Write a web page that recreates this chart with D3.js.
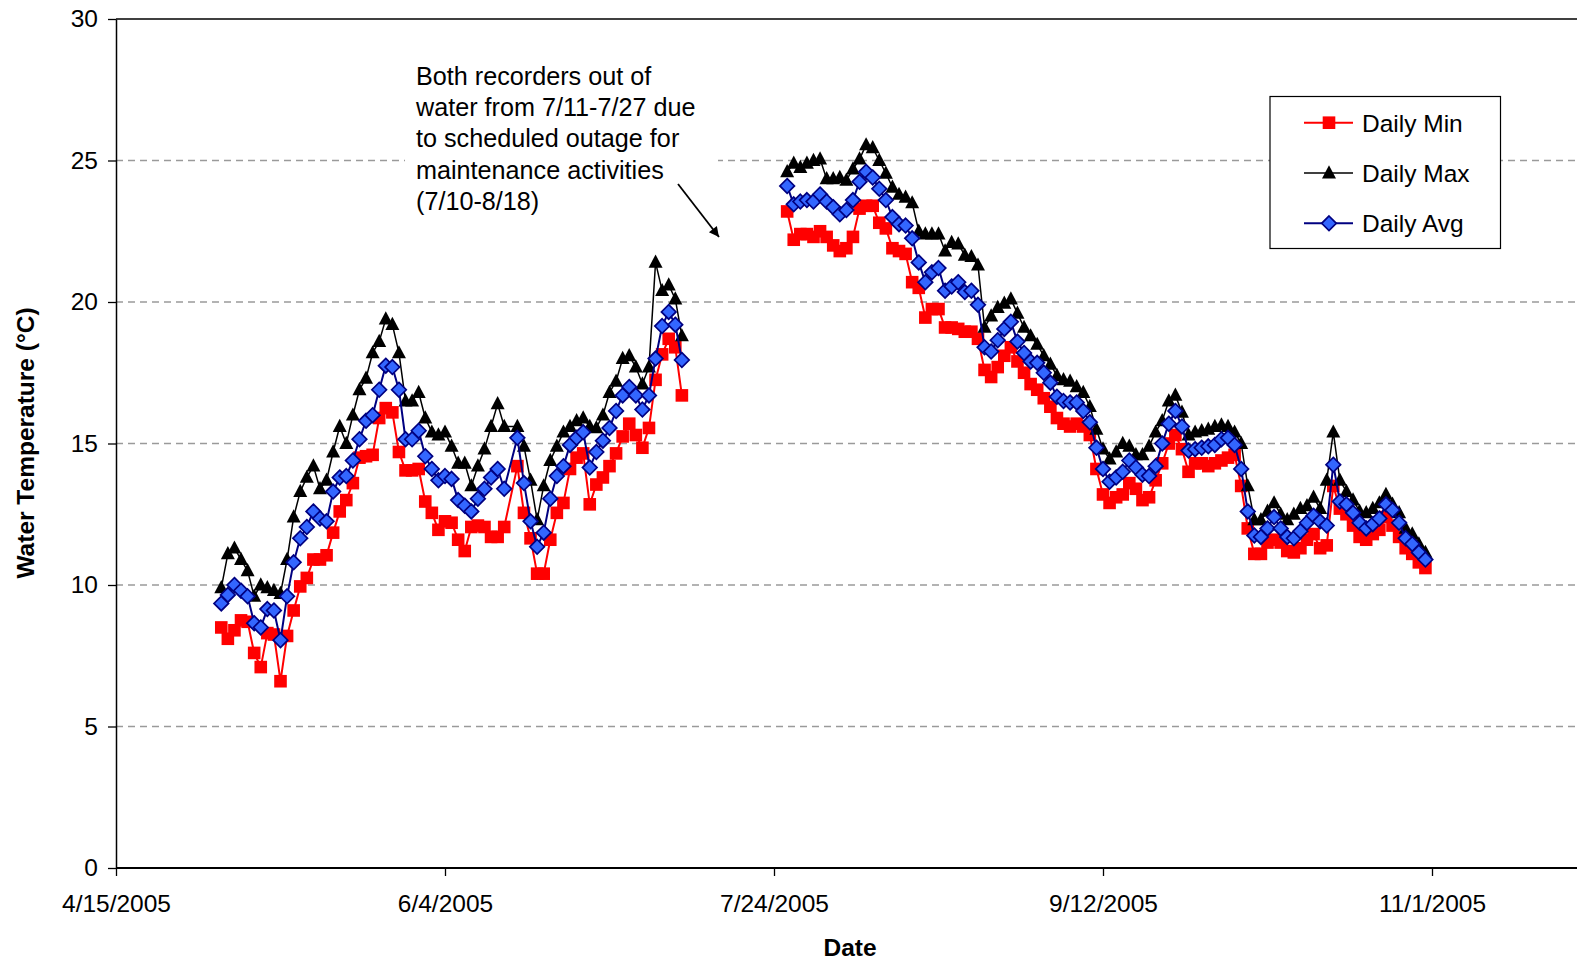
<!DOCTYPE html>
<html><head><meta charset="utf-8">
<script src="https://cdn.jsdelivr.net/npm/d3@7"></script>
<style>
body{margin:0;background:#fff}
svg{display:block}
text{font-family:"Liberation Sans",Arial,sans-serif}
</style>
</head><body>
<svg id="chart" width="1577" height="961"></svg>
<script>
// ---------- data ----------
const seriesNames = ["Daily Min", "Daily Max", "Daily Avg"];
const xTickLabels = ["4/15/2005", "6/4/2005", "7/24/2005", "9/12/2005", "11/1/2005"];
const yTicks = [0, 5, 10, 15, 20, 25, 30];
const xTitle = "Date";
const yTitle = "Water Temperature (\u00B0C)";
const noteLines = ["Both recorders out of", "water from 7/11-7/27 due", "to scheduled outage for", "maintenance activities", "(7/10-8/18)"];

// Period A: daily values starting 5/1/2005 (null = no record that day)
const startA = "5/1/2005";
const minA = [8.5,8.1,8.4,8.75,8.7,7.6,7.1,8.3,8.25,6.6,
  8.2,9.1,9.95,10.25,10.9,10.9,11.05,11.85,12.6,13.0,
  13.6,14.5,14.55,14.6,15.9,16.25,16.1,14.7,14.05,14.05,
  14.1,12.95,12.55,11.95,12.25,12.2,11.6,11.2,12.05,12.1,
  12.05,11.7,11.7,12.05,null,14.2,12.55,11.65,10.4,10.4,
  11.6,12.55,12.9,14.1,14.5,14.65,12.85,13.55,13.8,14.2,
  14.65,15.25,15.7,15.3,14.85,15.55,17.25,18.15,18.7,18.4,16.7];
const maxA = [9.9,11.1,11.3,10.9,10.5,9.6,10.0,9.9,9.8,9.7,
  10.9,12.4,13.3,13.8,14.2,13.4,13.7,14.7,15.6,15.0,
  16.0,16.9,17.3,18.2,18.6,19.4,19.2,18.2,16.5,16.5,
  16.8,15.9,15.4,15.3,15.4,14.9,14.3,14.3,13.5,14.2,
  14.8,15.6,16.4,15.6,null,15.6,14.9,13.7,12.3,13.5,
  14.4,14.9,15.4,15.6,15.8,15.9,15.6,15.55,16.0,16.8,
  17.2,18.0,18.1,17.7,17.1,17.7,21.4,20.4,20.6,20.1,18.8];
const avgA = [9.35,9.65,10.0,9.8,9.6,8.65,8.5,9.15,9.1,8.05,
  9.6,10.8,11.65,12.05,12.6,12.35,12.25,13.3,13.8,13.85,
  14.4,15.15,15.8,16.0,16.9,17.75,17.7,16.9,15.15,15.15,
  15.45,14.55,14.1,13.7,13.85,13.75,13.0,12.8,12.6,13.05,
  13.4,13.8,14.1,13.4,null,15.2,13.6,12.25,11.35,11.85,
  13.05,13.85,14.2,14.95,15.2,15.4,14.15,14.7,15.1,15.55,
  16.15,16.7,17.0,16.7,16.2,16.7,18.0,19.15,19.65,19.2,17.95];

// Period B: daily values starting 7/26/2005
const startB = "7/26/2005";
const minB = [23.2,22.2,22.4,22.4,22.3,22.5,22.3,22.0,21.8,21.9,
  22.3,23.3,23.4,23.4,22.8,22.6,21.9,21.8,21.7,20.7,
  20.5,19.45,19.75,19.75,19.1,19.1,19.05,18.95,18.95,18.7,
  17.6,17.35,17.7,18.1,18.4,17.9,17.5,17.1,16.9,16.6,
  16.3,15.9,15.7,15.6,15.7,15.6,15.3,14.1,13.2,12.9,
  13.1,13.2,13.6,13.4,13.0,13.1,13.7,14.3,15.0,15.3,
  14.8,14.0,14.3,14.3,14.2,14.3,14.4,14.5,14.6,13.5,
  12.0,11.1,11.1,11.5,11.6,11.5,11.2,11.15,11.3,11.6,
  11.8,11.3,11.4,13.5,12.7,12.5,12.1,11.7,11.6,11.8,
  11.95,12.4,12.1,11.7,11.3,11.1,10.8,10.6];
const maxB = [24.6,24.9,24.75,24.9,25.0,25.05,24.35,24.35,24.4,24.3,
  24.7,25.05,25.55,25.45,25.0,24.55,24.05,23.8,23.7,23.5,
  22.5,22.4,22.4,22.4,21.8,22.1,22.05,21.65,21.6,21.3,
  19.1,19.5,19.8,19.95,20.1,19.6,19.1,18.8,18.5,18.1,
  17.8,17.4,17.25,17.2,17.0,16.8,16.3,15.5,14.8,14.45,
  14.7,15.0,14.9,14.6,14.6,14.9,15.4,15.8,16.5,16.7,
  16.1,15.3,15.4,15.45,15.5,15.6,15.65,15.6,15.4,15.0,
  13.5,12.3,12.3,12.6,12.9,12.5,12.3,12.5,12.7,12.8,
  13.1,12.7,13.7,15.4,13.7,13.3,13.0,12.6,12.55,12.7,
  12.9,13.2,12.85,12.55,12.0,11.8,11.45,11.15];
const avgB = [24.1,23.45,23.55,23.6,23.55,23.8,23.55,23.35,23.1,23.25,
  23.6,24.25,24.6,24.4,24.0,23.6,23.0,22.75,22.7,22.25,
  21.4,20.7,21.05,21.2,20.4,20.55,20.7,20.35,20.4,19.9,
  18.4,18.25,18.65,19.05,19.3,18.6,18.2,17.9,17.85,17.5,
  17.15,16.65,16.5,16.45,16.45,16.15,15.75,14.85,14.1,13.65,
  13.8,14.0,14.4,14.15,13.9,13.85,14.2,15.0,15.7,16.15,
  15.6,14.75,14.8,14.85,14.9,14.95,15.15,15.2,14.95,14.1,
  12.6,11.75,11.7,12.0,12.4,12.0,11.7,11.65,11.9,12.2,
  12.45,12.25,12.1,14.25,12.95,12.85,12.55,12.2,12.0,12.15,
  12.35,12.85,12.65,12.2,11.65,11.45,11.15,10.9];

// ---------- helpers ----------
const parseDate = s => { const [m, d, yr] = s.split("/").map(Number); return new Date(Date.UTC(yr, m - 1, d)); };
const build = (start, vals) => { const t0 = parseDate(start); return vals.map((v, i) => ({date: d3.utcDay.offset(t0, i), v})).filter(p => p.v != null); };

const series = [
  {name: seriesNames[0], segs: [build(startA, minA), build(startB, minB)], color: "#FF0000", lw: 2, marker: "square"},
  {name: seriesNames[1], segs: [build(startA, maxA), build(startB, maxB)], color: "#000000", lw: 1.5, marker: "triangle"},
  {name: seriesNames[2], segs: [build(startA, avgA), build(startB, avgB)], color: "#000080", lw: 2, marker: "diamond"}
];

// ---------- layout ----------
const L = 116, T = 19, B = 868, R = 1584;
const svg = d3.select("#chart");
const xTickDates = xTickLabels.map(parseDate);
const x = d3.scaleUtc().domain([xTickDates[0], xTickDates[xTickDates.length - 1]]).range([116, 1432]);
const y = d3.scaleLinear().domain([0, 30]).range([B, T]);
const FS = 24.5;

// gridlines
svg.append("g").selectAll("line").data(yTicks.filter(v => v > 0 && v < 30)).join("line")
  .attr("x1", L).attr("x2", R).attr("y1", d => y(d)).attr("y2", d => y(d))
  .attr("stroke", "#9a9a9a").attr("stroke-width", 1.3).attr("stroke-dasharray", "7,5");
// top frame line
svg.append("line").attr("x1", L).attr("x2", R).attr("y1", y(30)).attr("y2", y(30))
  .attr("stroke", "#000").attr("stroke-width", 1.3);

// annotation box (white background hides gridline)
svg.append("rect").attr("x", 405).attr("y", 52).attr("width", 313).attr("height", 170).attr("fill", "#fff");
const note = svg.append("text").attr("font-size", 25.2).attr("fill", "#000");
noteLines.forEach((t, i) => note.append("tspan").attr("x", 416).attr("y", 84.5 + i * 31.4).text(t));
// arrow
svg.append("defs").append("marker").attr("id", "ah").attr("viewBox", "0 0 10 10").attr("refX", 10).attr("refY", 5)
  .attr("markerWidth", 12).attr("markerHeight", 10).attr("markerUnits", "userSpaceOnUse").attr("orient", "auto")
  .append("path").attr("d", "M0,0 L10,5 L0,10 Z").attr("fill", "#000");
svg.append("line").attr("x1", 678).attr("y1", 184).attr("x2", 719).attr("y2", 237)
  .attr("stroke", "#000").attr("stroke-width", 1.8).attr("marker-end", "url(#ah)");

// y axis
const yAxis = svg.append("g").attr("transform", `translate(${L},0)`)
  .call(d3.axisLeft(y).tickValues(yTicks).tickSize(8).tickSizeOuter(0).tickPadding(10));
yAxis.select(".domain").attr("stroke", "#000").attr("stroke-width", 1.5);
yAxis.selectAll(".tick line").attr("stroke", "#000").attr("stroke-width", 1.3);
yAxis.selectAll("text").attr("font-size", FS).attr("font-family", "Liberation Sans, Arial, sans-serif").attr("fill", "#000");

// x axis
const xAxis = svg.append("g").attr("transform", `translate(0,${B})`)
  .call(d3.axisBottom(x).tickValues(xTickDates).tickFormat((d, i) => xTickLabels[i]).tickSize(8).tickSizeOuter(0).tickPadding(19));
xAxis.select(".domain").remove();
xAxis.append("line").attr("x1", L).attr("x2", R).attr("y1", 0).attr("y2", 0).attr("stroke", "#000").attr("stroke-width", 2.2);
xAxis.selectAll(".tick line").attr("stroke", "#000").attr("stroke-width", 1.3);
xAxis.selectAll("text").attr("font-size", FS).attr("font-family", "Liberation Sans, Arial, sans-serif").attr("fill", "#000");

// axis titles
svg.append("text").attr("x", 850).attr("y", 956).attr("text-anchor", "middle")
  .attr("font-size", FS).attr("font-weight", "bold").text(xTitle);
svg.append("text").attr("transform", "translate(34,443) rotate(-90)").attr("text-anchor", "middle")
  .attr("font-size", FS).attr("font-weight", "bold").text(yTitle);

// markers
function drawMarker(g, type) {
  if (type === "square") {
    g.append("rect").attr("x", -6.3).attr("y", -6.3).attr("width", 12.6).attr("height", 12.6).attr("fill", "#FF0000");
  } else if (type === "triangle") {
    g.append("path").attr("d", "M0,-7.8 L7,5.4 L-7,5.4 Z").attr("fill", "#000");
  } else {
    g.append("path").attr("d", "M0,-7.3 L7.3,0 L0,7.3 L-7.3,0 Z").attr("fill", "#3366FF")
      .attr("stroke", "#000080").attr("stroke-width", 1.7);
  }
}
const line = d3.line().x(d => x(d.date)).y(d => y(d.v));
series.forEach(s => {
  const g = svg.append("g");
  s.segs.forEach(seg => {
    g.append("path").datum(seg).attr("d", line).attr("fill", "none")
      .attr("stroke", s.color).attr("stroke-width", s.lw).attr("stroke-linejoin", "round");
  });
  s.segs.forEach(seg => {
    seg.forEach(p => {
      const m = g.append("g").attr("transform", `translate(${x(p.date)},${y(p.v)})`);
      drawMarker(m, s.marker);
    });
  });
});

// legend
const lg = svg.append("g");
lg.append("rect").attr("x", 1270).attr("y", 96.5).attr("width", 230.5).attr("height", 152)
  .attr("fill", "#fff").attr("stroke", "#000").attr("stroke-width", 1.2);
const ly = [122.7, 173, 223.3];
series.forEach((s, i) => {
  lg.append("line").attr("x1", 1304).attr("x2", 1353).attr("y1", ly[i]).attr("y2", ly[i])
    .attr("stroke", s.color).attr("stroke-width", s.lw);
  const m = lg.append("g").attr("transform", `translate(1329,${ly[i]})`);
  drawMarker(m, s.marker);
  lg.append("text").attr("x", 1362).attr("y", ly[i] + 8.8).attr("font-size", FS).text(s.name);
});
</script>
</body></html>
